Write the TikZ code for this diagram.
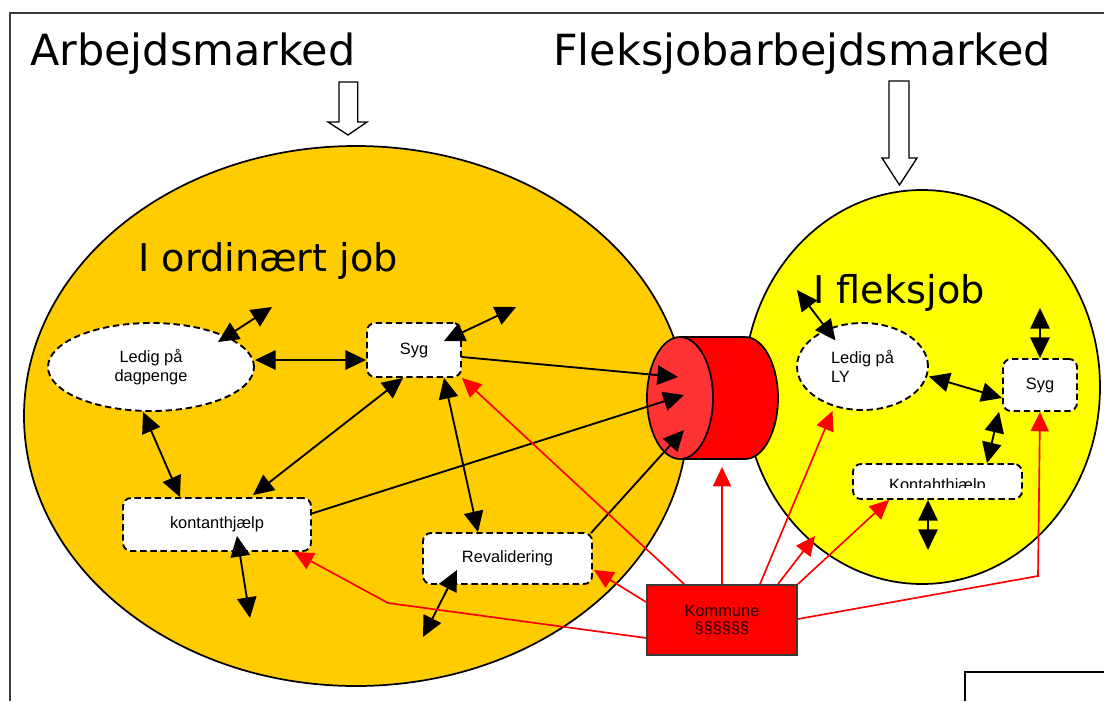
\documentclass[tikz,border=0pt]{standalone}
\usepackage{fontspec}
\setmainfont{Liberation Sans}
\newfontfamily\titlefont{DejaVu Sans}
\usetikzlibrary{arrows.meta,calc,shapes.geometric}
\definecolor{ordgul}{HTML}{FFCC00}
\definecolor{fleksgul}{HTML}{FFFF00}
\definecolor{tromlefront}{HTML}{FF3333}
\definecolor{rammegraa}{HTML}{3A3A3A}
\tikzset{
  smalltext/.style={font=\fontsize{12.3pt}{14.4pt}\selectfont},
  stiplet/.style={draw=black, line width=1.4pt, dash pattern=on 4.8pt off 2.8pt, fill=white, inner sep=0pt, smalltext},
  boks/.style={stiplet, rectangle, rounded corners=6pt},
  ovalboks/.style={stiplet, ellipse},
  sort/.style={draw=black, line width=1.4pt, -{Triangle[length=15.5pt,width=14.5pt]}},
  sortdobbelt/.style={draw=black, line width=1.4pt, {Triangle[length=15.5pt,width=14.5pt]}-{Triangle[length=15.5pt,width=14.5pt]}},
  roed/.style={draw=red, line width=1.25pt, -{Triangle[length=14.5pt,width=13.5pt]}},
  hulpil/.style={draw=black, line width=1pt, fill=white},
}
\begin{document}
\begin{tikzpicture}[x=0.75pt,y=-0.75pt]
\useasboundingbox (0,0) rectangle (1104,701);
\fill[white] (0,0) rectangle (1104,701);

% frame of the slide
\draw[rammegraa, line width=1.5pt] (10,701) -- (10,13) -- (1104,13);
\draw[black, line width=1.8pt] (1104,672) -- (965,672) -- (965,701);

% headings
\node[anchor=base west, inner sep=0pt, font=\titlefont\fontsize{32.2pt}{38pt}\selectfont] (overskrift1) at (30,65) {Arbejdsmarked};
\node[anchor=base west, inner sep=0pt, font=\titlefont\fontsize{32.2pt}{38pt}\selectfont] (overskrift2) at (553,65) {Fleksjobarbejdsmarked};

% hollow arrows under the headings
\draw[hulpil] (339,82) -- (357.7,82) -- (357.7,122) -- (367,122) -- (348,135) -- (328,122) -- (339,122) -- cycle;
\draw[hulpil] (889,81) -- (909,81) -- (909,158) -- (917,158) -- (899.5,185) -- (882,158) -- (889,158) -- cycle;

% the two labour markets
\draw[black, line width=1.3pt, fill=ordgul] (356,416) ellipse [x radius=249pt, y radius=202.5pt];
\draw[black, line width=1.3pt, fill=fleksgul] (922,387) ellipse [x radius=133.5pt, y radius=147.75pt];

\node[anchor=base west, inner sep=0pt, font=\titlefont\fontsize{28.7pt}{34pt}\selectfont] (ordinaert) at (138,271) {I ordinært job};
\node[anchor=base west, inner sep=0pt, font=\titlefont\fontsize{28.7pt}{34pt}\selectfont] (fleksjob) at (813,303) {I fleksjob};

% cylinder between the markets
\draw[black, line width=1.3pt, fill=red] (680,337) -- (745,337) arc[start angle=90, end angle=-90, x radius=24.75pt, y radius=45.75pt] -- (680,459) -- cycle;
\draw[black, line width=1.3pt, fill=tromlefront] (680,398) ellipse [x radius=24.75pt, y radius=45.75pt];
\coordinate (tromle1) at (678,377);
\coordinate (tromle2) at (684,395);
\coordinate (tromle3) at (684,430);
\coordinate (tromlebund) at (722,467);

% states on the ordinary labour market
\node[ovalboks, minimum width=154.5pt, minimum height=66pt, align=center] (ledigA) at (151,367) {Ledig på\\dagpenge};
\node[boks, minimum width=70.5pt, minimum height=40.5pt] (sygA) at (414,350) {Syg};
\node[boks, minimum width=141pt, minimum height=39.75pt] (kontA) at (217,524.5) {kontanthjælp};
\node[boks, minimum width=126.75pt, minimum height=38.25pt] (revA) at (507.5,558.5) {Revalidering};

% states on the flex job market
\node[ovalboks, minimum width=98.25pt, minimum height=65.25pt, align=left] (ledigB) at (862.5,366.5) {Ledig på\\LY};
\node[boks, minimum width=55.5pt, minimum height=39pt] (sygB) at (1040,385) {Syg};
\node[boks, minimum width=126.75pt, minimum height=26.25pt] (kontB) at (937.5,481.5) {};
\begin{scope}
  \clip (853,464) rectangle (1022,487);
  \node[anchor=base, inner sep=0pt, smalltext] (kontBtekst) at (937.5,490) {Kontahthjælp};
\end{scope}

% municipality
\node[draw=rammegraa, line width=1.4pt, fill=red, minimum width=112.5pt, minimum height=52.5pt, inner sep=0pt, align=center, smalltext, text=black!85!red] (kommune) at (722,620) {Kommune\\[-1pt]§§§§§§};

% free ends of the loose arrows
\coordinate (fri1) at (272,307);
\coordinate (fri2) at (516,307);
\coordinate (fri3) at (250,618);
\coordinate (fri4) at (423,637);
\coordinate (fri5) at (797,290);
\coordinate (fri6) at (1040,308);
\coordinate (fri7) at (928,550);
\coordinate (fri8) at (815,536);
\coordinate (knaek1) at (388,603);
\coordinate (knaek2) at (1038,576);

% black connectors, ordinary market
\draw[sortdobbelt] ($(ledigA.center)+(67,-25)$) -- (fri1);
\draw[sortdobbelt] ($(ledigA.east)+(0,-7)$) -- ($(sygA.west)+(0,10)$);
\draw[sortdobbelt] ($(sygA.north east)+(-18,19)$) -- (fri2);
\draw[sort] ($(sygA.east)+(0,7)$) -- (tromle1);
\draw[sortdobbelt] ($(ledigA.south)+(-8,0)$) -- ($(kontA.north)+(-37,0)$);
\draw[sortdobbelt] ($(sygA.south)+(-11,0)$) -- ($(kontA.north)+(36,-2)$);
\draw[sortdobbelt] ($(sygA.south)+(30,0)$) -- ($(revA.north)+(-29.5,0)$);
\draw[sort] ($(kontA.east)+(0,-11)$) -- (tromle2);
\draw[sort] ($(revA.north east)+(-2,1)$) -- (tromle3);
\draw[sortdobbelt] ($(kontA.south)+(20,-16)$) -- (fri3);
\draw[sortdobbelt] ($(revA.south west)+(35,-15)$) -- (fri4);

% black connectors, flex job market
\draw[sortdobbelt] (fri5) -- ($(ledigB.center)+(-27,-26)$);
\draw[sortdobbelt] ($(ledigB.east)+(0,10)$) -- ($(sygB.west)+(0,13)$);
\draw[sortdobbelt] (fri6) -- (sygB.north);
\draw[sortdobbelt] ($(sygB.south west)+(-3,0)$) -- ($(kontB.north)+(49.5,0)$);
\draw[sortdobbelt] ($(kontB.south)+(-9.5,0)$) -- (fri7);

% red connectors from the municipality
\draw[roed] ($(kommune.north west)+(38,0)$) -- (sygA.south east);
\draw[roed] ($(kommune.west)+(0,-18)$) -- ($(revA.south east)+(1,-15)$);
\draw[roed] ($(kommune.west)+(0,18)$) -- (knaek1) -- ($(kontA.south east)+(-18,0)$);
\draw[roed] (kommune.north) -- (tromlebund);
\draw[roed] ($(kommune.north)+(38,0)$) -- ($(ledigB.south)+(-30,0)$);
\draw[roed] ($(kommune.north)+(56,0)$) -- (fri8);
\draw[roed] (kommune.north east) -- ($(kontB.south west)+(37,0)$);
\draw[roed] ($(kommune.east)+(0,-1)$) -- (knaek2) -- (sygB.south);
\end{tikzpicture}
\end{document}
